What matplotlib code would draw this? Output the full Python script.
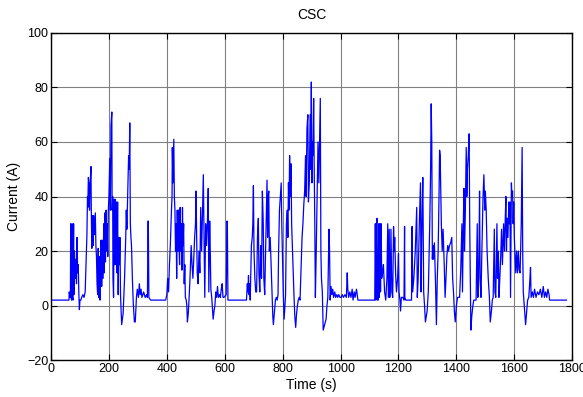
import matplotlib
matplotlib.use("Agg")
import matplotlib.pyplot as plt
import numpy as np

plt.rcParams["font.family"] = ["Liberation Sans", "DejaVu Sans"]

# current trace, split into drive segments (time s, current A)
seg1_t = [0, 62, 63, 65, 67, 68, 69, 71, 73, 74, 76, 78, 79, 81, 84, 86, 88, 90, 92, 94,
          96, 98, 100, 103, 106, 110, 114, 118, 121, 124, 126, 127, 129, 131, 133, 135, 138, 139, 141, 143,
          145, 147, 150, 153, 155, 157, 159, 161, 163, 165, 167, 169, 171, 173, 175, 177, 180, 182, 184, 186,
          188, 190, 192, 194, 196, 198, 200, 203, 205, 207, 210, 211, 213, 214, 216, 218, 220, 222, 224, 226,
          228, 230, 232, 234, 236, 238, 240, 244, 249, 254, 258, 260, 262, 265, 268, 270, 272, 274, 276, 278,
          281, 284, 288, 291, 295, 298, 302, 305, 308, 311, 314, 317, 320, 325, 330, 333, 335, 336, 338, 344,
          396]
seg1_i = [2, 2, 5, 3, 4, 30, 3, 2, 30, 3, 2, 30, 4, 20, 10, 17, 8, 25, 12, 15,
          5, -1.5, 2, 2, 3, 4, 3, 5, 15, 26, 40, 36, 47, 45, 35, 44, 51, 36, 21, 33,
          22, 33, 26, 34, 22, 18, 8, 4, 21, 3, 18, 2, 12, 24, 7, 24, 10, 30, 12, 34,
          16, 35, 20, 30, 18, 35, 40, 54, 35, 66, 71, 35, 40, 10, 3, 39, 15, 39, 15, 38,
          12, 38, 4, 25, 15, 25, 4, -7, -3, 10, 25, 35, 28, 42, 55, 50, 67, 30, 25, 22,
          10, 1, -6, -6, 3, 6, 3, 8, 4, 6, 3, 4, 5, 3, 4, 3, 31, 31, 3, 2,
          2]

seg2_t = [400, 403, 406, 409, 412, 416, 418, 419, 421, 424, 426, 428, 430, 432, 434, 436, 438, 440, 442, 444,
          446, 448, 450, 452, 454, 456, 458, 460, 462, 464, 467, 469, 471, 474, 477, 480, 484, 487, 490, 493,
          496, 499, 501, 503, 505, 508, 511, 514, 517, 520, 523, 526, 528, 531, 534, 537, 540, 543, 545, 548,
          550, 552, 555, 558, 560, 563, 566, 569, 572, 575, 578, 582, 585, 588, 591, 594, 597, 605, 608, 609,
          611, 613, 675]
seg2_i = [4, 10, 5, 15, 22, 35, 40, 58, 45, 61, 40, 35, 20, 30, 10, 35, 20, 35, 22, 15,
          36, 20, 30, 13, 36, 22, 30, 8, 15, 3, 2, 0, -6, -3, 3, 10, 22, 15, 10, 17,
          25, 30, 42, 25, 12, 8, 20, 12, 36, 20, 33, 48, 30, 3, 30, 22, 30, 43, 5, 31,
          20, 6, 3, -2, -5, -2, 0, 5, 3, 7, 3, 4, 3, 6, 8, 3, 3, 4, 31, 30,
          2, 2, 2]

seg3_t = [678, 680, 682, 684, 686, 688, 692, 695, 697, 699, 701, 704, 707, 710, 713, 716, 718, 721, 724, 727,
          730, 733, 735, 738, 741, 743, 746, 748, 750, 752, 754, 757, 760, 763, 766, 768, 771, 775, 778, 781,
          784, 786, 789, 792, 795, 797, 800, 802, 805, 808, 810, 813, 816, 818, 820, 822, 824, 826, 829, 831,
          834, 837, 839, 842, 845, 848, 851, 854, 857, 860, 864, 867, 870, 873, 876, 879, 881, 884, 887, 889,
          892, 895, 897, 899, 901, 903, 905, 907, 909, 911, 913, 916, 919, 922, 925, 928, 930, 932, 934, 937,
          940, 945, 950, 953, 956, 958, 960, 962, 964, 967, 970, 973, 976, 980, 983, 987, 990, 994, 998, 1002,
          1006, 1010, 1015, 1020, 1023, 1025, 1028, 1032, 1036, 1040, 1043, 1047, 1050, 1055, 1060, 1118]
seg3_i = [8, 5, 11, 4, 8, 2, 22, 25, 30, 44, 20, 10, 5, 5, 25, 32, 12, 5, 22, 10,
          42, 30, 10, 4, 20, 30, 46, 25, 40, 42, 20, 25, 15, 6, -4, -7, -3, 2, 3, 2,
          4, 20, 35, 40, 45, 30, 15, 5, -5, 0, 4, 30, 35, 25, 45, 35, 55, 40, 52, 30,
          20, 10, 4, -4, -8, -3, 0, 2, 3, 2, 15, 25, 30, 37, 42, 55, 40, 65, 70, 38,
          45, 70, 50, 82, 45, 60, 55, 76, 50, 30, 3, 20, 40, 60, 45, 64, 76, 20, 10, 5,
          -9, -7, -5, 0, 3, 15, 28, 20, 2, 7, 4, 6, 3, 5, 3, 4, 3, 4, 3, 3,
          4, 3, 4, 3, 12, 6, 3, 5, 3, 6, 2, 5, 3, 6, 2, 2]

seg4_t = [1120, 1122, 1124, 1126, 1128, 1130, 1132, 1134, 1136, 1138, 1140, 1142, 1145, 1148, 1152, 1156, 1160, 1163, 1165, 1168,
          1170, 1172, 1174, 1177, 1180, 1183, 1185, 1187, 1190, 1193, 1197, 1200, 1202, 1205, 1207, 1210, 1215, 1219, 1221, 1222,
          1225, 1245, 1247, 1249, 1253, 1258, 1261, 1263, 1265, 1268, 1272, 1276, 1278, 1281, 1284, 1287, 1290, 1293, 1299, 1303,
          1308, 1311, 1313, 1315, 1317, 1319, 1321, 1324, 1328, 1331, 1334, 1337, 1340, 1342, 1344, 1346, 1348, 1351, 1354, 1358,
          1361, 1364, 1367, 1370, 1373, 1376, 1380, 1384, 1387, 1390, 1393, 1396]
seg4_i = [30, 2, 30, 32, 2, 2, 30, 3, 30, 5, 30, 10, 12, 15, 5, 2, 10, 30, 3, 28,
          3, 10, 28, 5, 3, 29, 20, 25, 12, 5, 10, 19, 5, 2, -2, 3, 3, 2, 29, 3,
          2, 2, 29, 5, 10, 20, 30, 36, 3, 10, 30, 45, 5, 30, 47, 5, 0, -6, -2, 5,
          30, 50, 74, 60, 17, 22, 17, 23, 8, -7, 10, 20, 40, 57, 55, 42, 30, 20, 28, 15,
          3, 10, 18, 22, 20, 22, 23, 25, 10, 5, -2, -6]

seg5_t = [1400, 1404, 1411, 1415, 1419, 1421, 1424, 1426, 1428, 1431, 1434, 1436, 1438, 1441, 1444, 1446, 1448, 1450, 1453, 1457,
          1460, 1468, 1472, 1474, 1476, 1478, 1480, 1482, 1485, 1488, 1492, 1495, 1498, 1500, 1503, 1506, 1510, 1514, 1517, 1521,
          1524, 1527, 1531, 1533, 1536, 1540, 1542, 1545, 1547, 1550, 1553, 1556, 1559, 1563, 1566, 1569, 1571, 1573, 1575, 1578,
          1581, 1583, 1585, 1587, 1590, 1592, 1594, 1596, 1598, 1600, 1602, 1605, 1608, 1611, 1614, 1617, 1620, 1624, 1627, 1629,
          1631, 1633, 1636, 1639, 1642, 1646, 1650, 1653, 1656, 1658, 1662, 1666, 1670, 1675, 1680, 1685, 1690, 1695, 1700, 1704,
          1708, 1712, 1716, 1720, 1722, 1780]
seg5_i = [0, 3, 3, 13, 30, 5, 30, 43, 20, 35, 58, 40, 50, 55, 63, 30, 10, -9, -4, 0,
          2, 2, 30, 3, 5, 20, 42, 10, 3, 20, 40, 48, 35, 42, 35, 20, 10, 3, -6, -2,
          2, 3, 28, 5, 3, 30, 10, 20, 3, 10, 18, 28, 15, 30, 20, 33, 40, 20, 32, 25,
          38, 30, 38, 3, 45, 40, 42, 30, 38, 25, 20, 12, 20, 12, 20, 13, 12, 30, 58, 20,
          5, 2, -3, -7, -3, 2, 3, 8, 14, 3, 5, 3, 6, 3, 5, 4, 6, 3, 7, 3,
          5, 3, 6, 4, 2, 2]

t = np.concatenate([seg1_t, seg2_t, seg3_t, seg4_t, seg5_t])
current = np.concatenate([seg1_i, seg2_i, seg3_i, seg4_i, seg5_i])

fig = plt.figure(figsize=(5.83, 3.97), dpi=100)
ax = fig.add_axes([0.0875, 0.093, 0.894, 0.824])

ax.plot(t, current, color="#0000ff", linewidth=0.9)

ax.set_xlim(0, 1800)
ax.set_ylim(-20, 100)
ax.set_xticks(np.arange(0, 1801, 200))
ax.set_yticks(np.arange(-20, 101, 20))
ax.grid(True, color="#808080", linewidth=0.8)
ax.set_axisbelow(True)
ax.tick_params(direction="in", top=True, right=True, length=4, labelsize=9, pad=2)
for s in ax.spines.values():
    s.set_linewidth(1.0)

ax.set_title("CSC", fontsize=10, pad=10)
ax.set_xlabel("Time (s)", fontsize=10, labelpad=2)
ax.set_ylabel("Current (A)", fontsize=10, labelpad=4)

fig.savefig("out.png", dpi=100)
